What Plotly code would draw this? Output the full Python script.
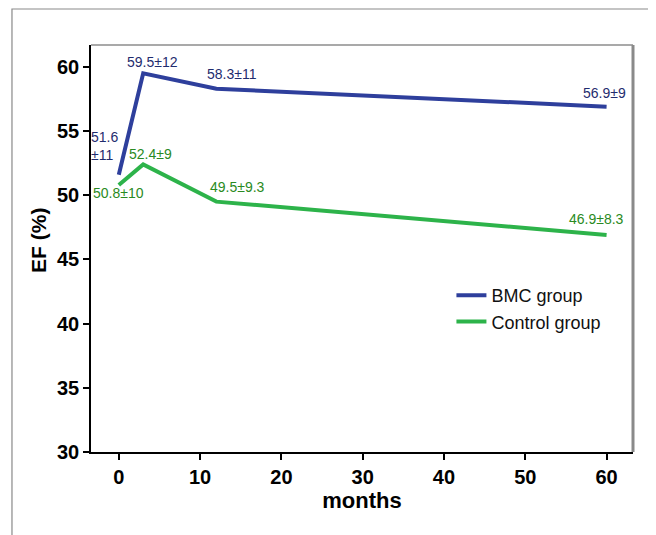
import plotly.graph_objects as go

months = [0, 3, 12, 60]
bmc_ef = [51.6, 59.5, 58.3, 56.9]
ctrl_ef = [50.8, 52.4, 49.5, 46.9]
bmc_labels = ["51.6<br>±11", "59.5±12", "58.3±11", "56.9±9"]
ctrl_labels = ["50.8±10", "52.4±9", "49.5±9.3", "46.9±8.3"]
x_ticks = [0, 10, 20, 30, 40, 50, 60]
y_ticks = [30, 35, 40, 45, 50, 55, 60]

BLUE = "#2E3F9C"
GREEN = "#2DB34A"
BLUE_TXT = "#1F2C6E"
GREEN_TXT = "#2A8A22"
FONT = "Liberation Sans, Arial"

fig = go.Figure()
fig.add_trace(go.Scatter(x=months, y=bmc_ef, mode="lines", name="BMC group",
                         line=dict(color=BLUE, width=4)))
fig.add_trace(go.Scatter(x=months, y=ctrl_ef, mode="lines", name="Control group",
                         line=dict(color=GREEN, width=4)))

bmc_shift = [(-14, 29), (9, 11), (16, 15), (-2, 14)]
ctrl_shift = [(0, -8), (7, 10), (21, 15), (-10, 16)]
for xv, yv, t, (dx, dy) in zip(months, bmc_ef, bmc_labels, bmc_shift):
    fig.add_annotation(x=xv, y=yv, text=t, showarrow=False, xshift=dx, yshift=dy,
                       align="left",
                       font=dict(family=FONT, size=14, color=BLUE_TXT))
for xv, yv, t, (dx, dy) in zip(months, ctrl_ef, ctrl_labels, ctrl_shift):
    fig.add_annotation(x=xv, y=yv, text=t, showarrow=False, xshift=dx, yshift=dy,
                       font=dict(family=FONT, size=14, color=GREEN_TXT))

# y-axis title
fig.add_annotation(xref="paper", yref="paper", x=-0.096, y=0.521, text="<b>EF (%)</b>",
                   textangle=-90, showarrow=False, xanchor="center", yanchor="middle",
                   font=dict(family=FONT, size=21, color="black"))

# outer frame
fig.add_shape(type="rect", xref="paper", yref="paper", x0=-0.1458, x1=1.0332,
              y0=-0.25, y1=1.0885, line=dict(color="#8a8a8a", width=1.2), layer="below")
# top and right plot borders
fig.add_shape(type="line", xref="paper", yref="paper", x0=0, x1=1, y0=1, y1=1,
              line=dict(color="#555555", width=1.2))
fig.add_shape(type="line", xref="paper", yref="paper", x0=1, x1=1, y0=0, y1=1,
              line=dict(color="#8a8a8a", width=3))

fig.update_layout(
    width=648, height=527,
    margin=dict(l=83, r=23, t=37, b=83),
    paper_bgcolor="white", plot_bgcolor="white",
    showlegend=True,
    legend=dict(x=0.665, y=0.43, xanchor="left", yanchor="top",
                bgcolor="rgba(0,0,0,0)", itemwidth=30, tracegroupgap=0,
                font=dict(family=FONT, size=18, color="#111")),
    xaxis=dict(range=[-3.42, 63.25], tickvals=x_ticks,
               ticktext=["<b>%d</b>" % v for v in x_ticks],
               ticks="outside", ticklen=6, automargin=False,
               tickwidth=1.5, tickcolor="black", showgrid=False, zeroline=False,
               showline=True, linecolor="black", linewidth=1.5,
               tickfont=dict(family=FONT, size=20, color="black"),
               title=dict(text="<b>months</b>", standoff=6,
                          font=dict(family=FONT, size=22, color="black"))),
    yaxis=dict(range=[30, 61.7], tickvals=y_ticks,
               ticktext=["<b>%d</b>" % v for v in y_ticks],
               ticks="outside", ticklen=6, automargin=False,
               tickwidth=1.5, tickcolor="black", showgrid=False, zeroline=False,
               showline=True, linecolor="black", linewidth=1.5,
               tickfont=dict(family=FONT, size=20, color="black")),
)

fig.write_html("out.html")
